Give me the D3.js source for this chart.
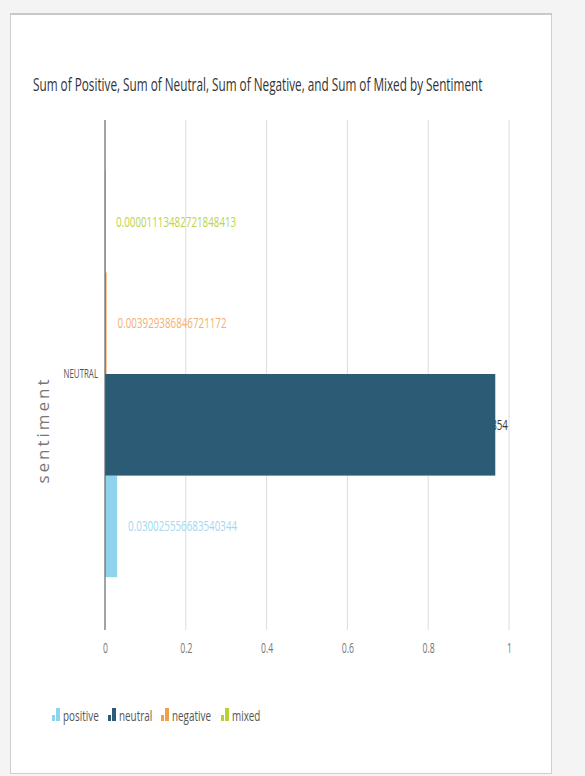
<!DOCTYPE html>
<html>
<head>
<meta charset="utf-8">
<script src="https://cdn.jsdelivr.net/npm/d3@7"></script>
<style>
  body { margin: 0; background: #f4f4f4; }
  svg { display: block; }
  text { font-family: "Open Sans", sans-serif; }
</style>
</head>
<body>
<div id="container"></div>
<script>
const WIDTH = 585;
const HEIGHT = 776;
const PLOT = {left: 105, right: 509, top: 120, bottom: 628};

var CATEGORIES = ["NEUTRAL"];
var SERIES = ["positive", "neutral", "negative", "mixed"];
var VALUES = [0.030025556683540344, 0.966033921542520854, 0.003929386846721172, 0.00001113482721848413];
var VALUE_LABELS = ["0.030025556683540344", "0.966033921542520854", "0.003929386846721172", "0.00001113482721848413"];
var COLORS = ["#8fd3ec", "#2c5b75", "#f0a04b", "#b5d334"];
var LABEL_COLORS = ["#a3d8ef", "#333333", "#f2b071", "#bcd44a"];
var X_TICKS = [0, 0.2, 0.4, 0.6, 0.8, 1];

// squeeze text horizontally around its own x, the original uses a narrow face
var condense = function (sel, factor) {
    sel.each(function () {
        var x = +(this.getAttribute("x") || 0);
        this.setAttribute("transform", "translate(" + x + ",0) scale(" + factor + ",1) translate(" + (-x) + ",0)");
    });
};

var xScale = d3.scaleLinear().domain([0, 1]).range([PLOT.left, PLOT.right]);
var yBand = d3.scaleBand().domain(CATEGORIES).range([PLOT.top, PLOT.bottom]).paddingInner(0.2).paddingOuter(0.1);
// series stacked top to bottom: mixed, negative, neutral, positive
var ySeries = d3.scaleBand().domain(SERIES.slice().reverse()).range([0, yBand.bandwidth()]);

var svg = d3.select("#container").append("svg")
    .attr("width", WIDTH)
    .attr("height", HEIGHT);

// card
svg.append("rect")
    .attr("x", 10.5).attr("y", 13.5)
    .attr("width", 541).attr("height", 760)
    .attr("fill", "#fff").attr("stroke", "#cfcfcf");
svg.append("line")
    .attr("x1", 10).attr("x2", 552).attr("y1", 14).attr("y2", 14)
    .attr("stroke", "#c8c8c8").attr("stroke-width", 2);

var title = svg.append("text")
    .attr("x", 33).attr("y", 91)
    .attr("font-size", 18)
    .attr("fill", "#333")
    .text("Sum of Positive, Sum of Neutral, Sum of Negative, and Sum of Mixed by Sentiment");
condense(title, 450 / title.node().getComputedTextLength());

// grid
svg.append("g").selectAll("line").data(X_TICKS.slice(1)).join("line")
    .attr("x1", d => xScale(d)).attr("x2", d => xScale(d))
    .attr("y1", PLOT.top).attr("y2", PLOT.bottom + 2)
    .attr("stroke", "#dcdcdc").attr("stroke-width", 1);

var xAxis = d3.axisBottom(xScale).tickValues(X_TICKS).tickSize(0).tickPadding(15).tickFormat(d3.format("~g"));
var xg = svg.append("g").attr("transform", "translate(0," + PLOT.bottom + ")").call(xAxis);
xg.select(".domain").remove();
xg.selectAll("text").attr("font-size", 14).attr("fill", "#777").attr("font-family", "Open Sans, sans-serif");
condense(xg.selectAll("text"), 0.62);

// value labels (drawn under bars)
var LABEL_SQUEEZE = 0.7;
var labels = svg.append("g").selectAll("text").data(SERIES).join("text")
    .attr("y", (d, i) => yBand(CATEGORIES[0]) + ySeries(d) + ySeries.bandwidth() / 2 + 5)
    .attr("font-size", 14)
    .attr("fill", (d, i) => LABEL_COLORS[i])
    .text((d, i) => VALUE_LABELS[i]);
labels.attr("x", function (d, i) {
    var end = xScale(VALUES[i]) + 11;
    var w = this.getComputedTextLength() * LABEL_SQUEEZE;
    return Math.min(end, PLOT.right - 1 - w);
});
condense(labels, LABEL_SQUEEZE);

// bars
svg.append("g").selectAll("rect").data(SERIES).join("rect")
    .attr("x", xScale(0))
    .attr("y", d => yBand(CATEGORIES[0]) + ySeries(d))
    .attr("width", (d, i) => Math.max(xScale(VALUES[i]) - xScale(0), 0.6))
    .attr("height", ySeries.bandwidth())
    .attr("fill", (d, i) => COLORS[i]);

// y axis
var yAxis = d3.axisLeft(yBand).tickSize(0).tickPadding(7);
var yg = svg.append("g").attr("transform", "translate(" + PLOT.left + ",0)").call(yAxis);
yg.select(".domain").remove();
yg.selectAll("text").attr("font-size", 12).attr("fill", "#555").attr("font-family", "Open Sans, sans-serif");
condense(yg.selectAll("text"), 0.66);
svg.append("line")
    .attr("x1", PLOT.left).attr("x2", PLOT.left)
    .attr("y1", PLOT.top).attr("y2", PLOT.bottom + 2)
    .attr("stroke", "#666").attr("stroke-width", 1.2);

svg.append("text")
    .attr("transform", "translate(49,430) rotate(-90)")
    .attr("text-anchor", "middle")
    .attr("font-family", "DejaVu Sans, sans-serif")
    .attr("font-size", 17)
    .attr("letter-spacing", 3)
    .attr("fill", "#777")
    .text("sentiment");

// legend
var legendX = [52, 108, 161, 221];
var lg = svg.append("g").selectAll("g").data(SERIES).join("g")
    .attr("transform", (d, i) => "translate(" + legendX[i] + ",716)");
lg.append("rect").attr("x", 0).attr("y", -1).attr("width", 3).attr("height", 6).attr("fill", (d, i) => COLORS[i]);
lg.append("rect").attr("x", 4).attr("y", -8).attr("width", 4).attr("height", 13).attr("fill", (d, i) => COLORS[i]);
var lt = lg.append("text").attr("x", 11).attr("y", 5)
    .attr("font-size", 15).attr("fill", "#555")
    .text(d => d);
condense(lt, 0.66);
</script>
</body>
</html>
